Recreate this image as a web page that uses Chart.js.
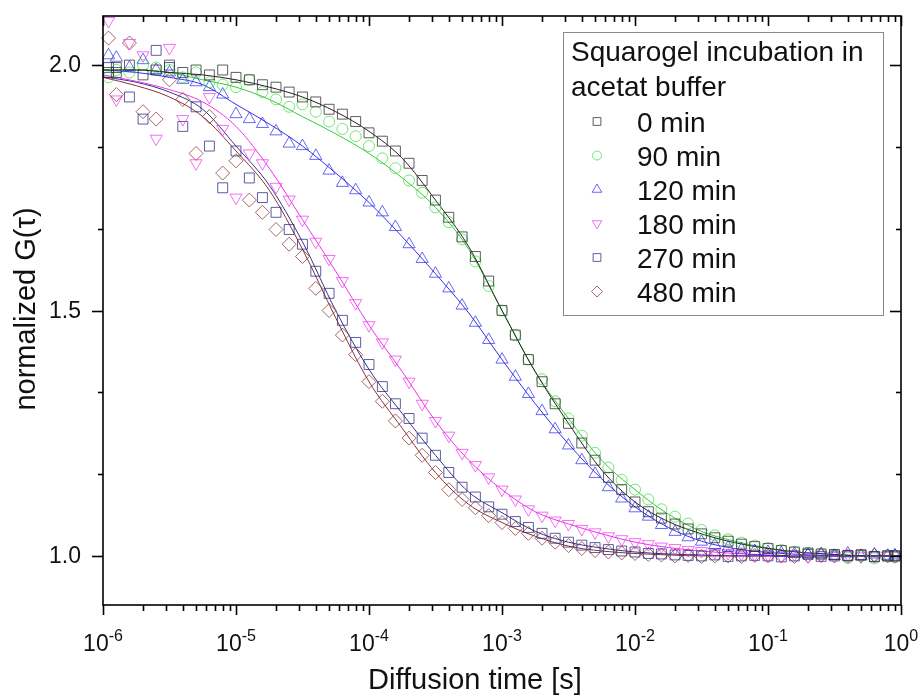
<!DOCTYPE html>
<html>
<head>
<meta charset="utf-8">
<script src="https://cdn.jsdelivr.net/npm/chart.js@4.4.1/dist/chart.umd.min.js"></script>
<style>
  html, body { margin: 0; padding: 0; background: #fff; }
  #wrap { width: 921px; height: 695px; }
</style>
</head>
<body>
<div id="wrap"><canvas id="fcsChart"></canvas></div>
<script>
// Diffusion time (s) of the measured points
const tau = [
  1.1e-6, 1.26e-6, 1.58e-6, 2.0e-6, 2.51e-6, 3.16e-6, 3.98e-6, 5.01e-6, 6.31e-6, 7.94e-6,
  1.0e-5, 1.26e-5, 1.58e-5, 2.0e-5, 2.51e-5, 3.16e-5, 3.98e-5, 5.01e-5, 6.31e-5, 7.94e-5,
  1.0e-4, 1.26e-4, 1.58e-4, 2.0e-4, 2.51e-4, 3.16e-4, 3.98e-4, 5.01e-4, 6.31e-4, 7.94e-4,
  1.0e-3, 1.26e-3, 1.58e-3, 2.0e-3, 2.51e-3, 3.16e-3, 3.98e-3, 5.01e-3, 6.31e-3, 7.94e-3,
  1.0e-2, 1.26e-2, 1.58e-2, 2.0e-2, 2.51e-2, 3.16e-2, 3.98e-2, 5.01e-2, 6.31e-2, 7.94e-2,
  1.0e-1, 1.26e-1, 1.58e-1, 2.0e-1, 2.51e-1, 3.16e-1, 3.98e-1, 5.01e-1, 6.31e-1, 7.94e-1,
  0.9
];

// normalized G(tau), measured
const g0min = [
  1.985, 1.995, 2.0, 1.98, 1.99, 1.995, 1.985, 1.99, 1.98, 1.99,
  1.975, 1.97, 1.96, 1.955, 1.945, 1.935, 1.925, 1.91, 1.90, 1.885,
  1.862, 1.845, 1.825, 1.80, 1.765, 1.725, 1.69, 1.65, 1.61, 1.56,
  1.50, 1.45, 1.40, 1.355, 1.31, 1.27, 1.23, 1.195, 1.16, 1.135,
  1.11, 1.09, 1.077, 1.065, 1.055, 1.045, 1.037, 1.03, 1.024, 1.019,
  1.015, 1.011, 1.008, 1.006, 1.004, 1.003, 1.001, 1.002, 0.999, 1.0, 1.0
];
const g90min = [
  1.975, 1.99, 1.985, 2.0, 1.995, 1.99, 1.975, 1.985, 1.965, 1.96,
  1.955, 1.97, 1.945, 1.93, 1.915, 1.92, 1.905, 1.885, 1.87, 1.855,
  1.835, 1.81, 1.79, 1.765, 1.74, 1.71, 1.68, 1.645, 1.60, 1.55,
  1.50, 1.45, 1.40, 1.36, 1.315, 1.28, 1.245, 1.21, 1.18, 1.155,
  1.135, 1.115, 1.095, 1.08, 1.066, 1.053, 1.042, 1.034, 1.027, 1.021,
  1.016, 1.012, 1.008, 1.006, 1.004, 1.002, 0.996, 1.0, 0.995, 1.0, 0.997
];
const g120min = [
  2.02, 2.015, 1.995, 2.01, 1.99, 1.985, 1.97, 1.965, 1.955, 1.94,
  1.90, 1.89, 1.88, 1.865, 1.84, 1.835, 1.815, 1.785, 1.76, 1.745,
  1.72, 1.70, 1.67, 1.635, 1.605, 1.575, 1.545, 1.51, 1.475, 1.44,
  1.40, 1.365, 1.33, 1.295, 1.258, 1.225, 1.195, 1.167, 1.14, 1.117,
  1.097, 1.08, 1.063, 1.049, 1.038, 1.029, 1.022, 1.017, 1.013, 1.01,
  1.008, 1.006, 1.004, 1.003, 1.004, 1.0, 1.005, 0.999, 1.003, 1.0, 1.001
];
const g180min = [
  2.09, 1.93, 2.045, 2.02, 1.85, 2.035, 1.89, 1.80, 1.935, 1.87,
  1.73, 1.82, 1.80, 1.752, 1.726, 1.685, 1.64, 1.605, 1.56, 1.515,
  1.47, 1.435, 1.40, 1.355, 1.31, 1.275, 1.245, 1.21, 1.185, 1.16,
  1.135, 1.115, 1.095, 1.082, 1.072, 1.065, 1.055, 1.048, 1.04, 1.034,
  1.028, 1.024, 1.019, 1.016, 1.012, 1.01, 1.008, 1.006, 1.004, 1.003,
  1.002, 1.0, 1.003, 0.999, 1.001, 1.0, 1.002, 0.999, 1.001, 1.0, 1.0
];
const g270min = [
  1.995, 1.985, 1.935, 1.89, 2.03, 2.0, 1.875, 1.915, 1.835, 1.75,
  1.825, 1.77, 1.73, 1.70, 1.665, 1.635, 1.58, 1.535, 1.48, 1.435,
  1.39, 1.345, 1.31, 1.28, 1.24, 1.205, 1.17, 1.14, 1.12, 1.10,
  1.085, 1.07, 1.058, 1.046, 1.036, 1.028, 1.022, 1.017, 1.013, 1.01,
  1.008, 1.005, 1.004, 1.002, 1.001, 1.0, 1.002, 0.999, 1.0, 1.001,
  1.0, 0.998, 1.0, 1.003, 0.999, 1.0, 1.0, 1.002, 0.998, 1.0, 1.0
];
const g480min = [
  2.055, 1.94, 2.045, 1.905, 1.89, 1.97, 1.93, 1.82, 1.895, 1.78,
  1.805, 1.725, 1.70, 1.665, 1.635, 1.61, 1.545, 1.50, 1.45, 1.41,
  1.355, 1.315, 1.275, 1.24, 1.205, 1.17, 1.135, 1.115, 1.098, 1.082,
  1.068, 1.056, 1.046, 1.036, 1.028, 1.021, 1.015, 1.011, 1.008, 1.006,
  1.005, 1.003, 1.002, 1.0, 1.001, 0.999, 1.0, 1.0, 0.999, 1.001,
  1.0, 1.0, 0.999, 1.0, 1.001, 1.0, 0.999, 1.0, 1.001, 1.0, 1.0
];

// fitted curves, sampled every quarter decade
const fitTau = [
  1e-6, 1.78e-6, 3.16e-6, 5.62e-6, 1e-5, 1.78e-5, 3.16e-5, 5.62e-5,
  1e-4, 1.78e-4, 3.16e-4, 5.62e-4, 1e-3, 1.78e-3, 3.16e-3, 5.62e-3,
  1e-2, 1.78e-2, 3.16e-2, 5.62e-2, 1e-1, 1.78e-1, 3.16e-1, 5.62e-1, 1
];
const fit0min   = [1.99, 1.99, 1.985, 1.98, 1.97, 1.955, 1.935, 1.905, 1.865, 1.81, 1.725, 1.63, 1.50, 1.375, 1.27, 1.175, 1.11, 1.07, 1.045, 1.027, 1.015, 1.007, 1.003, 1.0, 1.0];
const fit90min  = [1.99, 1.99, 1.985, 1.97, 1.955, 1.93, 1.895, 1.86, 1.82, 1.77, 1.71, 1.625, 1.50, 1.375, 1.28, 1.195, 1.135, 1.085, 1.05, 1.03, 1.016, 1.007, 1.003, 1.0, 1.0];
const fit120min = [1.99, 1.985, 1.975, 1.96, 1.92, 1.88, 1.835, 1.78, 1.72, 1.65, 1.575, 1.495, 1.40, 1.31, 1.228, 1.157, 1.10, 1.058, 1.03, 1.015, 1.007, 1.003, 1.0, 1.0, 1.0];
const fit180min = [1.98, 1.967, 1.95, 1.925, 1.875, 1.79, 1.685, 1.58, 1.47, 1.375, 1.275, 1.195, 1.135, 1.09, 1.065, 1.045, 1.028, 1.017, 1.01, 1.005, 1.002, 1.0, 1.0, 1.0, 1.0];
const fit270min = [1.976, 1.965, 1.945, 1.91, 1.835, 1.755, 1.64, 1.50, 1.38, 1.29, 1.205, 1.13, 1.088, 1.05, 1.028, 1.016, 1.008, 1.004, 1.002, 1.0, 1.0, 1.0, 1.0, 1.0, 1.0];
const fit480min = [1.975, 1.958, 1.935, 1.895, 1.825, 1.745, 1.625, 1.485, 1.355, 1.26, 1.17, 1.105, 1.068, 1.04, 1.02, 1.01, 1.005, 1.002, 1.0, 1.0, 1.0, 1.0, 1.0, 1.0, 1.0];

const seriesNames = ['0 min', '90 min', '120 min', '180 min', '270 min', '480 min'];
const legendTitle = ['Squarogel incubation in', 'acetat buffer'];
const xTickExponents = ['-6', '-5', '-4', '-3', '-2', '-1', '0'];
const yTickLabels = ['1.0', '1.5', '2.0'];

const measured = [g0min, g90min, g120min, g180min, g270min, g480min];
const fits = [fit0min, fit90min, fit120min, fit180min, fit270min, fit480min];

const styles = [
  { color: 'rgba(40,40,40,0.75)',  line: '#222222', point: 'rect',     radius: 7,   rotation: 0 },
  { color: 'rgba(60,220,60,0.7)',  line: '#33cc33', point: 'circle',   radius: 5.5, rotation: 0 },
  { color: 'rgba(40,40,240,0.7)',  line: '#3333ee', point: 'triangle', radius: 7,   rotation: 0 },
  { color: 'rgba(240,50,240,0.7)', line: '#ee33ee', point: 'triangle', radius: 7,   rotation: 180 },
  { color: 'rgba(40,40,130,0.75)', line: '#333388', point: 'rect',     radius: 7,   rotation: 0 },
  { color: 'rgba(140,50,50,0.75)', line: '#883333', point: 'rectRot',  radius: 7,   rotation: 0 }
];

const FONT = '"Liberation Sans", Arial, sans-serif';

const datasets = [];
measured.forEach((vals, s) => {
  datasets.push({
    label: seriesNames[s],
    data: tau.map((t, i) => ({ x: t, y: vals[i] })),
    showLine: false,
    pointStyle: styles[s].point,
    rotation: styles[s].rotation,
    pointRadius: styles[s].radius,
    pointBorderWidth: 1,
    borderColor: styles[s].color,
    backgroundColor: 'rgba(255,255,255,0)',
    clip: false
  });
});
fits.forEach((vals, s) => {
  datasets.push({
    label: seriesNames[s] + ' fit',
    data: fitTau.map((t, i) => ({ x: t, y: vals[i] })),
    showLine: true,
    pointRadius: 0,
    borderWidth: 1,
    borderColor: styles[s].line,
    cubicInterpolationMode: 'monotone',
    fill: false
  });
});

// axes frame, ticks, labels, titles and the legend box
const origin = {
  id: 'origin',
  afterDraw(chart) {
    const { ctx, chartArea: a, scales: { x, y } } = chart;
    ctx.save();
    ctx.strokeStyle = '#000';
    ctx.fillStyle = '#111';
    ctx.lineWidth = 1.6;
    ctx.strokeRect(a.left, a.top, a.right - a.left, a.bottom - a.top);

    const seg = (x1, y1, x2, y2) => {
      ctx.beginPath(); ctx.moveTo(x1, y1); ctx.lineTo(x2, y2); ctx.stroke();
    };

    // x ticks, bottom outward, top inward
    xTickExponents.forEach(ex => {
      const e = Number(ex);
      for (let m = 1; m <= 9; m++) {
        if (e === 0 && m > 1) break;
        const px = Math.round(x.getPixelForValue(m * Math.pow(10, e))) + 0.5;
        const len = m === 1 ? 10 : 6;
        seg(px, a.bottom, px, a.bottom + len);
        seg(px, a.top, px, a.top + len);
      }
      const px = x.getPixelForValue(Math.pow(10, e));
      ctx.font = '23px ' + FONT;
      const wb = ctx.measureText('10').width;
      ctx.font = '16px ' + FONT;
      const we = ctx.measureText(ex).width;
      const start = px - (wb + we) / 2;
      ctx.textAlign = 'left';
      ctx.textBaseline = 'alphabetic';
      ctx.font = '23px ' + FONT;
      ctx.fillText('10', start, 651);
      ctx.font = '16px ' + FONT;
      ctx.fillText(ex, start + wb, 641);
    });

    // y ticks, left outward, right inward
    for (let k = 0; k <= 6; k++) {
      const v = 1.0 + k / 6;
      const py = Math.round(y.getPixelForValue(v)) + 0.5;
      const len = k % 3 === 0 ? 11 : 5;
      seg(a.left - len, py, a.left, py);
      seg(a.right - len, py, a.right, py);
    }
    ctx.font = '23px ' + FONT;
    ctx.textAlign = 'right';
    ctx.textBaseline = 'middle';
    yTickLabels.forEach(lbl => {
      ctx.fillText(lbl, 81, y.getPixelForValue(Number(lbl)) + 1);
    });

    // axis titles
    ctx.font = '29px ' + FONT;
    ctx.textAlign = 'center';
    ctx.textBaseline = 'alphabetic';
    ctx.fillText('Diffusion time [s]', 475, 689);
    ctx.save();
    ctx.translate(35, 309);
    ctx.rotate(-Math.PI / 2);
    ctx.fillText('normalized G(\u03C4)', 0, 0);
    ctx.restore();

    // legend
    ctx.lineWidth = 1;
    ctx.strokeStyle = '#8a8a8a';
    ctx.strokeRect(563.5, 32.5, 320, 283);
    ctx.fillStyle = '#111';
    ctx.font = '28px ' + FONT;
    ctx.textAlign = 'left';
    ctx.textBaseline = 'alphabetic';
    ctx.fillText(legendTitle[0], 571, 61);
    ctx.fillText(legendTitle[1], 571, 96);
    seriesNames.forEach((name, s) => {
      const base = 131.5 + s * 34;
      ctx.fillStyle = '#111';
      ctx.fillText(name, 637, base);
      ctx.strokeStyle = styles[s].color;
      ctx.fillStyle = 'rgba(255,255,255,0)';
      Chart.helpers.drawPoint(ctx, {
        pointStyle: styles[s].point,
        rotation: styles[s].rotation,
        radius: styles[s].point === 'circle' ? 4.5 : 5.5,
        borderWidth: 1
      }, 597, base - 10);
    });
    ctx.restore();
  }
};

new Chart(document.getElementById('fcsChart').getContext('2d'), {
  type: 'scatter',
  data: { datasets: datasets },
  options: {
    responsive: true,
    maintainAspectRatio: false,
    animation: false,
    layout: { padding: { left: 103, right: 20, top: 16, bottom: 90 } },
    scales: {
      x: { type: 'logarithmic', min: 1e-6, max: 1, display: false },
      y: { type: 'linear', min: 0.9, max: 2.1, display: false }
    },
    plugins: {
      legend: { display: false },
      tooltip: { enabled: false }
    }
  },
  plugins: [origin]
});
</script>
</body>
</html>
